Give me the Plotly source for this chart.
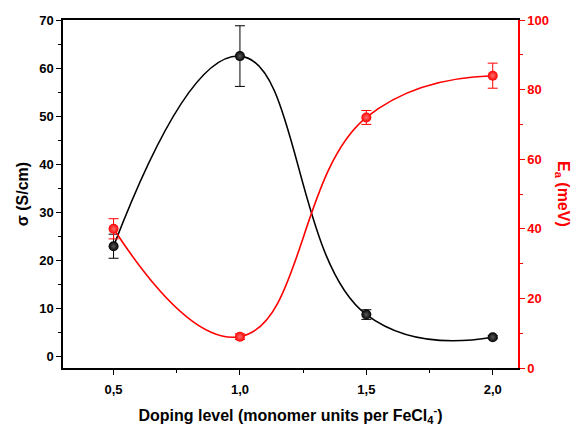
import plotly.graph_objects as go

doping = [0.5, 1.0, 1.5, 2.0]
sigma = [23.0, 62.5, 8.8, 4.1]
sigma_err = [2.5, 6.3, 1.0, 0.3]
ea = [40.0, 9.0, 72.0, 84.0]
ea_err = [2.9, 0.8, 2.0, 3.6]

font = "Liberation Sans, Arial, sans-serif"

fig = go.Figure()
fig.add_trace(go.Scatter(x=doping, y=sigma, mode="lines",
                         line=dict(color="black", width=1.6, shape="spline", smoothing=1.3),
                         showlegend=False, hoverinfo="skip"))
fig.add_trace(go.Scatter(x=doping, y=ea, mode="lines", yaxis="y2",
                         line=dict(color="#ff0000", width=1.6, shape="spline", smoothing=1.3),
                         showlegend=False, hoverinfo="skip"))
fig.add_trace(go.Scatter(x=doping, y=sigma, mode="markers",
                         marker=dict(color="black", size=10, gradient=dict(type="radial", color="#5a5a5a"),
                                     line=dict(width=0)),
                         error_y=dict(type="data", array=sigma_err, color="black", thickness=1, width=5),
                         showlegend=False))
fig.add_trace(go.Scatter(x=doping, y=ea, mode="markers", yaxis="y2",
                         marker=dict(color="#ff0000", size=10, gradient=dict(type="radial", color="#ff7070"),
                                     line=dict(width=0)),
                         error_y=dict(type="data", array=ea_err, color="#ff0000", thickness=1, width=5),
                         showlegend=False))

fig.update_layout(
    width=581, height=426,
    margin=dict(l=63, r=63, t=20, b=58, autoexpand=False),
    paper_bgcolor="white", plot_bgcolor="white",
    separators=", ",
    font=dict(family=font, size=13, color="black"),
    xaxis=dict(range=[0.3, 2.1], tickvals=doping, tickformat=".1f", automargin=False,
               showline=True, linecolor="black", linewidth=1.5, mirror=True,
               ticks="outside", ticklen=5, tickwidth=1.2, tickcolor="black",
               ticklabelstandoff=4,
               minor=dict(dtick=0.25, tick0=0.25, ticks="outside", ticklen=3, tickwidth=1.2, tickcolor="black"),
               showgrid=False, zeroline=False,
               tickfont=dict(family=font, size=13, color="black", weight="bold"),
               title=dict(text="Doping level (monomer units per FeCl<sub>4</sub><sup>-</sup>)",
                          font=dict(family=font, size=16, color="black", weight="bold"), standoff=15)),
    yaxis=dict(range=[-2.3, 70], dtick=10, tick0=0, automargin=False,
               showline=True, linecolor="black", linewidth=1.5,
               ticks="outside", ticklen=5, tickwidth=1.2, tickcolor="black",
               minor=dict(dtick=5, ticks="outside", ticklen=3, tickwidth=1.2, tickcolor="black"),
               showgrid=False, zeroline=False,
               tickfont=dict(family=font, size=13, color="black", weight="bold"),
               title=dict(text="σ (S/cm)", font=dict(family=font, size=16, color="black", weight="bold"),
                          standoff=7)),
    yaxis2=dict(range=[0, 100], dtick=20, overlaying="y", side="right", automargin=False,
                showline=True, linecolor="#ff0000", linewidth=1.5,
                ticks="outside", ticklen=5, tickwidth=1.2, tickcolor="#ff0000",
                minor=dict(dtick=10, ticks="outside", ticklen=3, tickwidth=1.2, tickcolor="#ff0000"),
                showgrid=False, zeroline=False,
                tickfont=dict(family=font, size=13, color="#ff0000", weight="bold")),
    annotations=[dict(text="E<sub>a</sub> (meV)", xref="paper", yref="paper", x=1.099, y=0.5,
                      xanchor="center", yanchor="middle", textangle=90, showarrow=False,
                      font=dict(family=font, size=16, color="#ff0000", weight="bold"))],
)

fig.write_html("out.html", config={"displayModeBar": False},
               post_script="document.body.style.margin='0';document.body.style.overflow='hidden';")
